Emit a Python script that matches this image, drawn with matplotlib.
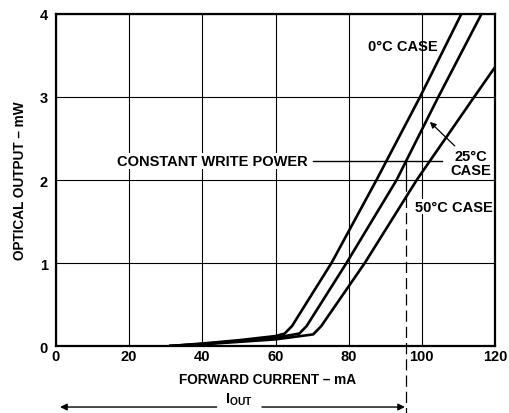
import matplotlib
matplotlib.use("Agg")
import matplotlib.pyplot as plt

plt.rcParams["font.family"] = ["Liberation Sans", "DejaVu Sans"]
plt.rcParams["font.weight"] = "bold"
plt.rcParams["mathtext.fontset"] = "custom"
plt.rcParams["mathtext.bf"] = "Liberation Sans:bold"
plt.rcParams["mathtext.rm"] = "Liberation Sans:bold"

# forward current (mA) vs optical output (mW)
i_0c = [31, 40, 50, 60, 62.5, 64.5, 75.3, 87.6, 99.5, 110.8]
p_0c = [0.0, 0.03, 0.07, 0.12, 0.15, 0.24, 1.0, 2.0, 3.0, 4.0]
i_25c = [31, 40, 50, 60, 66.5, 68.5, 79.4, 93.1, 104.5, 116.3]
p_25c = [0.0, 0.025, 0.06, 0.10, 0.15, 0.24, 1.0, 2.0, 3.0, 4.0]
i_50c = [31, 40, 50, 60, 70.3, 72.5, 84.4, 98.6, 114.3, 120]
p_50c = [0.0, 0.02, 0.05, 0.08, 0.14, 0.24, 1.0, 2.0, 3.0, 3.36]

x_ticks = [0, 20, 40, 60, 80, 100, 120]
y_ticks = [0, 1, 2, 3, 4]

write_power = 2.23   # mW, constant write power level
i_out = 95.8         # mA, current at that level

fig = plt.figure(figsize=(5.1, 4.14), dpi=100)
ax = fig.add_axes([0.1098, 0.1618, 0.8608, 0.802])

for xs, ys in [(i_0c, p_0c), (i_25c, p_25c), (i_50c, p_50c)]:
    ax.plot(xs, ys, color="black", lw=1.9, solid_joinstyle="round",
            solid_capstyle="round", zorder=3)

ax.set_xlim(0, 120)
ax.set_ylim(0, 4)
ax.set_xticks(x_ticks)
ax.set_yticks(y_ticks)
ax.grid(True, color="black", lw=0.8)
ax.tick_params(length=0, labelsize=10.5)
ax.tick_params(axis="x", pad=2)
ax.tick_params(axis="y", pad=6)
for lbl in ax.get_xticklabels() + ax.get_yticklabels():
    lbl.set_fontweight("bold")
for sp in ax.spines.values():
    sp.set_linewidth(1.6)

ax.set_xlabel("FORWARD CURRENT – mA", fontsize=9.8, fontweight="bold")
ax.xaxis.set_label_coords(0.483, -0.1)
ax.xaxis.label.set_va("center")
ax.set_ylabel("OPTICAL OUTPUT – mW", fontsize=9.8, fontweight="bold")
ax.yaxis.set_label_coords(-0.082, 0.5)
ax.yaxis.label.set_va("center")

# annotations
ax.text(94.7, 3.61, "0°C CASE", fontsize=10.5, fontweight="bold",
        ha="center", va="center", zorder=4)
ax.text(113.4, 2.20, "25°C\nCASE", fontsize=10.5, fontweight="bold",
        ha="center", va="center", linespacing=1.0, zorder=4)
ax.text(108.7, 1.68, "50°C CASE", fontsize=10.5, fontweight="bold",
        ha="center", va="center", zorder=4,
        bbox=dict(facecolor="white", edgecolor="none", pad=0.5))
ax.annotate("", xy=(102.2, 2.70), xytext=(109.0, 2.41),
            arrowprops=dict(arrowstyle="-|>", color="black", lw=0.9,
                            mutation_scale=9, shrinkA=0, shrinkB=0))

ax.text(68.7, write_power, "CONSTANT WRITE POWER", fontsize=10.5,
        fontweight="bold", ha="right", va="center", zorder=4,
        bbox=dict(facecolor="white", edgecolor="none", pad=0.5))
ax.plot([70.3, 105.4], [write_power, write_power], color="black", lw=1.0,
        zorder=4)
ax.plot([i_out, i_out], [write_power, 2.0], color="black", lw=0.9, zorder=4)
ax.plot([i_out, i_out], [2.0, -0.82], color="black", lw=0.9,
        linestyle=(0, (9, 4)), clip_on=False, zorder=4)

# I_OUT span arrow below the axis
y_arr = -0.735
ax.annotate("", xy=(1.1, y_arr), xytext=(43.9, y_arr),
            arrowprops=dict(arrowstyle="-|>", color="black", lw=1.0,
                            mutation_scale=10, shrinkA=0, shrinkB=0),
            annotation_clip=False)
ax.annotate("", xy=(95.4, y_arr), xytext=(56.3, y_arr),
            arrowprops=dict(arrowstyle="-|>", color="black", lw=1.0,
                            mutation_scale=10, shrinkA=0, shrinkB=0),
            annotation_clip=False)
ax.text(50.0, -0.74, r"$\mathbf{I_{OUT}}$", fontsize=10.5, ha="center",
        va="bottom", clip_on=False)

fig.savefig("out.png", dpi=100)
